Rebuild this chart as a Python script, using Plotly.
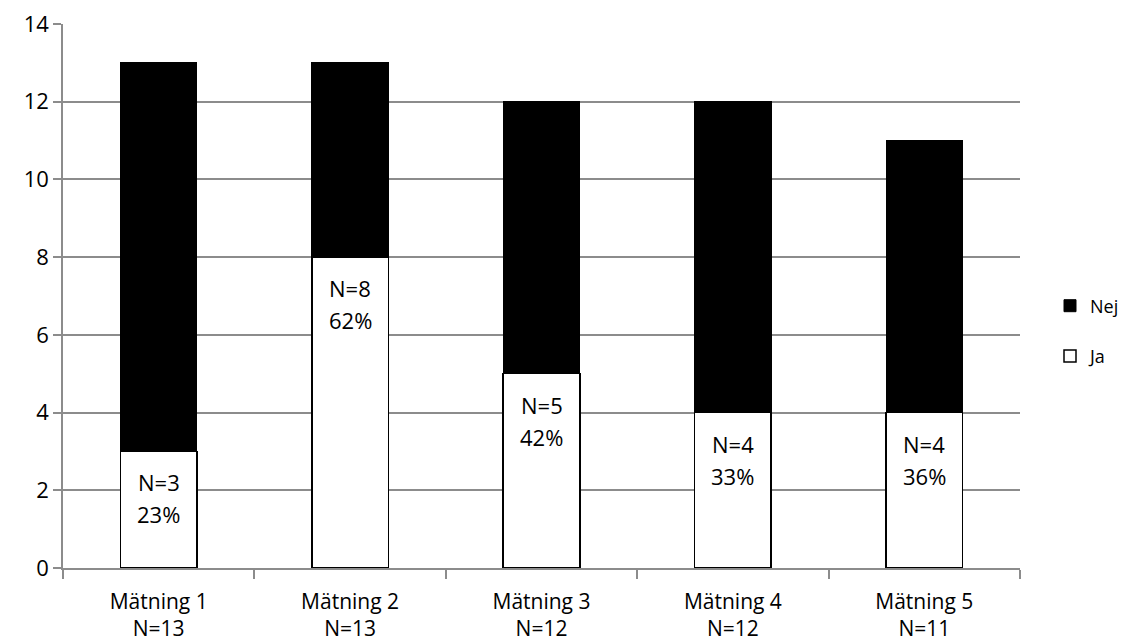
import plotly.graph_objects as go

categories = ["Mätning 1", "Mätning 2", "Mätning 3", "Mätning 4", "Mätning 5"]
ja = [3, 8, 5, 4, 4]
nej = [10, 5, 7, 8, 7]
totals = [j + n for j, n in zip(ja, nej)]

tick_text = [f"{c}<br>N={t}" for c, t in zip(categories, totals)]

FONT = "'Open Sans', sans-serif"
FS = 22
GRID = "#8c8c8c"

fig = go.Figure()
fig.add_trace(go.Bar(
    x=categories, y=ja, name="Ja", legendgroup="ja", legendrank=2,
    marker=dict(color="white", line=dict(color="black", width=1.5)),
    width=0.4,
))
fig.add_trace(go.Bar(
    x=categories, y=nej, name="Nej", legendgroup="nej", legendrank=1,
    marker=dict(color="black", line=dict(color="black", width=1)),
    width=0.4,
))

# N and share labels just below the top of each "Ja" segment
for c, j, t in zip(categories, ja, totals):
    pct = round(100 * j / t)
    fig.add_annotation(x=c, y=j, text=f"N={j}", showarrow=False,
                       yanchor="middle", yshift=-31,
                       font=dict(size=FS, color="black", family=FONT))
    fig.add_annotation(x=c, y=j, text=f"{pct}%", showarrow=False,
                       yanchor="middle", yshift=-63,
                       font=dict(size=FS, color="black", family=FONT))

fig.update_layout(
    barmode="stack",
    width=1122, height=644,
    margin=dict(l=63, r=102, t=24, b=76),
    paper_bgcolor="white", plot_bgcolor="white",
    font=dict(family=FONT, size=FS, color="black"),
    showlegend=True,
    legend=dict(xref="container", yref="container",
                x=1050 / 1122, y=1 - 331 / 644,
                xanchor="left", yanchor="middle",
                traceorder="grouped", tracegroupgap=24,
                itemwidth=30, font=dict(size=18),
                bgcolor="rgba(0,0,0,0)"),
    bargap=0.6,
)
fig.update_xaxes(
    tickvals=categories, ticktext=tick_text, automargin=False,
    tickfont=dict(size=21),
    showline=True, linecolor=GRID, linewidth=1.5,
    ticks="outside", tickson="boundaries", ticklen=9, tickcolor=GRID,
    tickwidth=1.5, showgrid=False, ticklabelstandoff=14,
)
fig.update_yaxes(
    range=[0, 14], dtick=2, automargin=False,
    showline=True, linecolor=GRID, linewidth=1.5,
    showgrid=True, gridcolor=GRID, gridwidth=1.5,
    ticks="outside", ticklen=8, tickcolor=GRID, tickwidth=1.5,
    zeroline=False, ticklabelstandoff=0,
)

fig.write_html("out.html")
